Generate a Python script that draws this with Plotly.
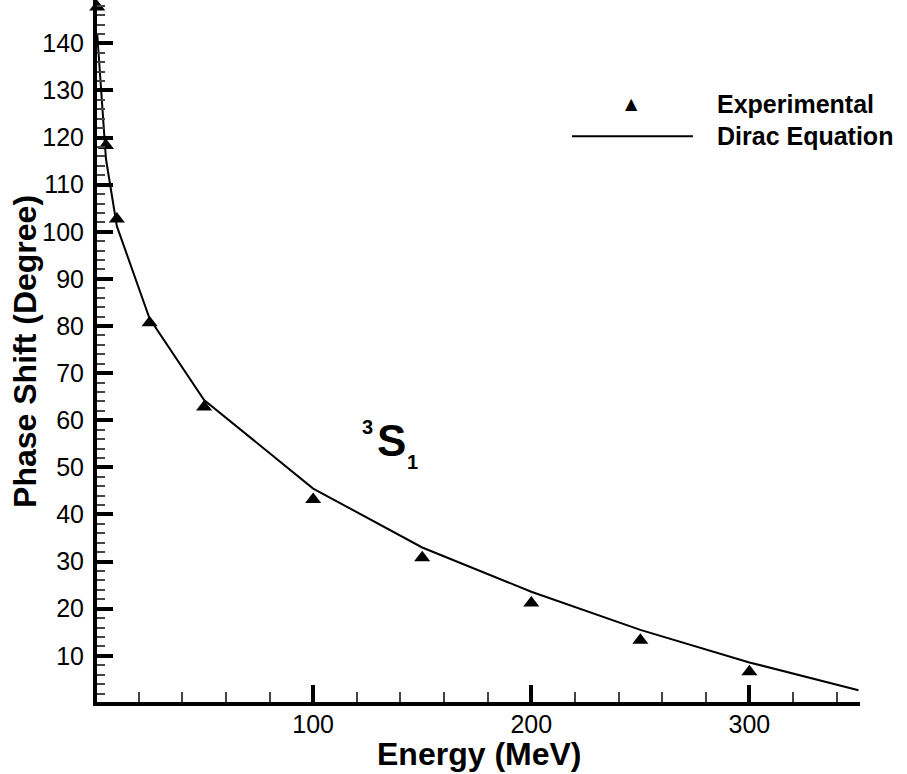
import plotly.graph_objects as go

# --- donnees ---
energie_exp = [1, 5, 10, 25, 50, 100, 150, 200, 250, 300]
phase_exp = [147.7, 118.3, 102.7, 80.7, 62.8, 43.2, 30.8, 21.2, 13.3, 6.6]

energie_dirac = [1, 5, 10, 25, 50, 100, 150, 200, 250, 300, 350]
phase_dirac = [142.0, 115.5, 101.2, 81.6, 64.3, 45.5, 33.0, 23.6, 15.5, 8.6, 2.7]

x_ticks = [100, 200, 300]
y_ticks = list(range(10, 150, 10))

police = "Liberation Sans, Arial, sans-serif"

fig = go.Figure()

# courbe Dirac
fig.add_trace(go.Scatter(
    x=energie_dirac, y=phase_dirac,
    mode="lines",
    name="Dirac Equation",
    line=dict(color="black", width=2),
    cliponaxis=False,
))

# points experimentaux
fig.add_trace(go.Scatter(
    x=energie_exp, y=phase_exp,
    mode="markers",
    name="Experimental",
    marker=dict(symbol="triangle-up", size=14, color="black"),
    cliponaxis=False,
))

fig.update_layout(
    width=907, height=774,
    margin=dict(l=97, r=47, t=0, b=72),
    paper_bgcolor="white",
    plot_bgcolor="white",
    showlegend=False,
    font=dict(family=police, color="black"),
)

fig.update_xaxes(
    range=[0.9, 350.7],
    tickvals=x_ticks,
    ticks="inside", ticklen=17, tickwidth=3.5, tickcolor="black",
    minor=dict(ticks="inside", ticklen=10, tickwidth=1.5, tickcolor="#444",
               tick0=0, dtick=20),
    showline=True, linewidth=4, linecolor="black",
    showgrid=False, zeroline=False, automargin=False,
    tickfont=dict(size=25, family=police),
    ticklabelstandoff=-3,
)

fig.update_yaxes(
    range=[0.2, 149.2],
    tickvals=y_ticks,
    ticks="inside", ticklen=16, tickwidth=3.5, tickcolor="black",
    minor=dict(ticks="inside", ticklen=8, tickwidth=1.5, tickcolor="#444",
               tick0=0, dtick=2),
    showline=True, linewidth=4, linecolor="black",
    showgrid=False, zeroline=False, automargin=False,
    tickfont=dict(size=25, family=police),
    ticklabelstandoff=4,
)

# titres des axes
fig.add_annotation(x=0.5, y=-0.0735, xref="paper", yref="paper",
                   xanchor="center", yanchor="middle",
                   text="<b>Energy (MeV)</b>", showarrow=False,
                   font=dict(size=32, family=police))
fig.add_annotation(x=-0.0945, y=0.5, xref="paper", yref="paper",
                   xanchor="center", yanchor="middle",
                   text="<b>Phase Shift (Degree)</b>", showarrow=False, textangle=-90,
                   font=dict(size=32, family=police))

# legende dessinee a la main
fig.add_annotation(x=0.701, y=0.852, xref="paper", yref="paper",
                   xanchor="center", yanchor="middle",
                   text="▲", showarrow=False, font=dict(size=16, family="DejaVu Sans"))
fig.add_shape(type="line", xref="paper", yref="paper",
              x0=0.6225, x1=0.781, y0=0.806, y1=0.806,
              line=dict(color="black", width=2))
fig.add_annotation(x=0.81, y=0.852, xref="paper", yref="paper",
                   xanchor="left", yanchor="middle",
                   text="<b>Experimental</b>", showarrow=False,
                   font=dict(size=25, family=police))
fig.add_annotation(x=0.81, y=0.806, xref="paper", yref="paper",
                   xanchor="left", yanchor="middle",
                   text="<b>Dirac Equation</b>", showarrow=False,
                   font=dict(size=25, family=police))

# etiquette 3S1
fig.add_annotation(x=0.3855, y=0.372, xref="paper", yref="paper",
                   xanchor="center", yanchor="middle",
                   text="<b>S</b>", showarrow=False, font=dict(size=44, family=police))
fig.add_annotation(x=0.354, y=0.392, xref="paper", yref="paper",
                   xanchor="center", yanchor="middle",
                   text="<b>3</b>", showarrow=False, font=dict(size=20, family=police))
fig.add_annotation(x=0.414, y=0.342, xref="paper", yref="paper",
                   xanchor="center", yanchor="middle",
                   text="<b>1</b>", showarrow=False, font=dict(size=20, family=police))

fig.write_html("out.html", config={"displayModeBar": False},
               post_script="document.body.style.margin='0px';")
